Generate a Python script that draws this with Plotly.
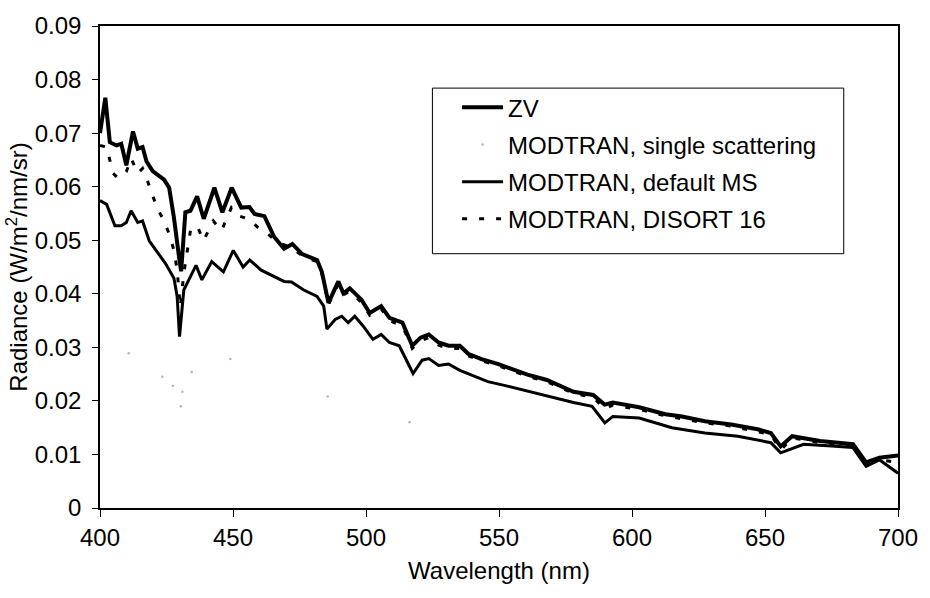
import plotly.graph_objects as go

# ---- data ----
zv_nm = [400, 402, 403.7, 406.2, 408, 409.9, 412.4, 414.2, 416, 417.5, 419.8, 422.2, 424.1, 426, 427.8,
         429.7, 430.5, 432.1, 434, 436.5, 439, 443, 446, 449.5, 453.1, 456.2, 458.1, 461.8, 465.5,
         469.2, 472.3, 476, 481.6, 483.4, 485.9, 489.6, 491.5, 493.9, 498.3, 501.4, 505.7, 508.8,
         513.7, 517.4, 520.5, 523.6, 527.3, 531, 535.3, 538.4, 543.4, 549.5, 554.5, 560.7, 568,
         578, 585.4, 589.7, 592.8, 602.7, 612.6, 618.8, 627.4, 637.3, 647.2, 652.2, 655.9, 660.2,
         670.7, 683.1, 688, 693, 700]
zv_val = [0.0700, 0.0766, 0.0683, 0.0677, 0.0680, 0.0640, 0.0703, 0.0671, 0.0674, 0.0647, 0.0629, 0.0619,
          0.0613, 0.0598, 0.0542, 0.0469, 0.0442, 0.0552, 0.0555, 0.0582, 0.0540, 0.0598, 0.0552, 0.0598,
          0.0561, 0.0562, 0.0549, 0.0545, 0.0506, 0.0484, 0.0493, 0.0474, 0.0463, 0.0441, 0.0383, 0.0423,
          0.0401, 0.0410, 0.0389, 0.0364, 0.0377, 0.0355, 0.0346, 0.0303, 0.0318, 0.0324, 0.0309, 0.0303,
          0.0303, 0.0288, 0.0278, 0.0269, 0.0260, 0.0249, 0.0239, 0.0217, 0.0211, 0.0193, 0.0197, 0.0188,
          0.0175, 0.0171, 0.0162, 0.0156, 0.0147, 0.0140, 0.0115, 0.0134, 0.0125, 0.0119, 0.0085, 0.0094,
          0.0098]

ss_nm = [410.8, 423.4, 427.4, 430.4, 431.0, 434.5, 449.0, 485.6, 516.4]
ss_val = [0.0289, 0.0245, 0.0228, 0.0190, 0.0217, 0.0254, 0.0278, 0.0208, 0.0160]

ms_nm = [400, 402.5, 405.6, 408, 409.9, 411.7, 414.2, 416, 418.5, 421.6, 424.7, 427.8, 429, 429.9, 431.5,
         434, 436.1, 438.3, 442, 446.4, 450.1, 453.8, 456.3, 460.6, 465.5, 469.2, 472, 476.6, 481.6,
         484.1, 485.3, 488.4, 490.9, 493.3, 495.8, 498.9, 502.6, 505.7, 508.8, 512.5, 516.2, 517.7,
         521.1, 523.6, 527.3, 531, 535.3, 539.7, 545.8, 552, 560, 570, 578, 585, 589.8, 592.8, 602.7,
         615, 627.4, 639.8, 652.2, 655.9, 664.5, 675, 683, 688, 693, 700]
ms_val = [0.0574, 0.0567, 0.0527, 0.0527, 0.0533, 0.0555, 0.0533, 0.0536, 0.0499, 0.0478, 0.0456, 0.0429,
          0.0395, 0.0320, 0.0407, 0.0432, 0.0453, 0.0426, 0.0460, 0.0441, 0.0481, 0.0450, 0.0463, 0.0444,
          0.0432, 0.0423, 0.0422, 0.0407, 0.0395, 0.0377, 0.0334, 0.0352, 0.0358, 0.0346, 0.0358, 0.0340,
          0.0315, 0.0324, 0.0309, 0.0303, 0.0266, 0.0251, 0.0276, 0.0279, 0.0266, 0.0269, 0.0257, 0.0248,
          0.0236, 0.0229, 0.0219, 0.0207, 0.0197, 0.0190, 0.0159, 0.0171, 0.0168, 0.0150, 0.0140, 0.0134,
          0.0122, 0.0103, 0.0119, 0.0116, 0.0113, 0.0078, 0.0090, 0.0065]

ds_nm = [400, 402.5, 404.9, 406.8, 409.9, 411.7, 414.2, 416, 417.9, 420.4, 421.6, 423.5, 426, 427.8, 429,
         430.2, 431.5, 434, 436.5, 438.9, 442.6, 445.7, 449.4, 452.5, 456.2, 459.3, 463, 466.7, 471.7,
         476.6, 481.6, 483.4, 485.9, 489.6, 491.5, 493.9, 498.3, 501.4, 505.7, 508.8, 513.7, 517.4,
         520.5, 523.6, 527.3, 531, 535.3, 538.4, 543.4, 549.5, 554.5, 560.7, 568, 578, 585.4, 589.7,
         592.8, 602.7, 612.6, 618.8, 627.4, 637.3, 647.2, 652.2, 655.9, 660.2, 670.7, 683.1, 688, 693, 700]
ds_val = [0.0677, 0.0674, 0.0625, 0.0616, 0.0628, 0.0653, 0.0625, 0.0634, 0.0610, 0.0573, 0.0558, 0.0542,
          0.0512, 0.0481, 0.0444, 0.0375, 0.0438, 0.0518, 0.0527, 0.0499, 0.0536, 0.0518, 0.0561, 0.0545,
          0.0539, 0.0524, 0.0512, 0.0496, 0.0487, 0.0469, 0.0460, 0.0438, 0.0380, 0.0418, 0.0398, 0.0405,
          0.0384, 0.0360, 0.0372, 0.0350, 0.0340, 0.0298, 0.0312, 0.0318, 0.0304, 0.0298, 0.0298, 0.0284,
          0.0275, 0.0266, 0.0257, 0.0246, 0.0236, 0.0214, 0.0207, 0.0185, 0.0192, 0.0184, 0.0172, 0.0167,
          0.0159, 0.0153, 0.0143, 0.0137, 0.0108, 0.0131, 0.0122, 0.0115, 0.0080, 0.0090, 0.0085]

names = ["ZV", "MODTRAN, single scattering", "MODTRAN, default MS", "MODTRAN, DISORT 16"]
x_ticks = [400, 450, 500, 550, 600, 650, 700]

FONT = "Liberation Sans, Arial, sans-serif"
FS = 24

fig = go.Figure()
fig.add_trace(go.Scatter(x=zv_nm, y=zv_val, mode="lines", name=names[0], legendgroup="a",
                         line=dict(color="black", width=4)))
fig.add_trace(go.Scatter(x=ss_nm, y=ss_val, mode="markers", name=names[1], legendgroup="b",
                         marker=dict(color="#b5b5b5", size=2.5)))
fig.add_trace(go.Scatter(x=ms_nm, y=ms_val, mode="lines", name=names[2], legendgroup="c",
                         line=dict(color="black", width=3)))
fig.add_trace(go.Scatter(x=ds_nm, y=ds_val, mode="lines", name=names[3], legendgroup="d",
                         line=dict(color="black", width=3, dash="5px,12px")))

W, H = 930, 598
L, R, T, B = 100, 909, 19, 508

def px(xp):
    return (xp - L) / (R - L)

def py(yp):
    return (B - yp) / (B - T)

fig.add_shape(type="rect", xref="paper", yref="paper",
              x0=px(437), x1=px(854), y0=py(250), y1=py(82),
              line=dict(color="black", width=1), fillcolor="rgba(0,0,0,0)")

fig.update_layout(
    width=W, height=H,
    margin=dict(l=L, r=W - R, t=T, b=H - B),
    paper_bgcolor="white", plot_bgcolor="white",
    font=dict(family=FONT, size=FS, color="black"),
    showlegend=True,
    legend=dict(x=px(462), y=py(79), xanchor="left", yanchor="top",
                bgcolor="rgba(0,0,0,0)", borderwidth=0,
                font=dict(family=FONT, size=FS, color="black"),
                tracegroupgap=3, itemwidth=41),
    xaxis=dict(range=[400, 700], tickvals=x_ticks, ticks="outside", ticklen=7, tickwidth=1,
               tickcolor="black", showline=True, linecolor="black", linewidth=1.5, mirror=True,
               showgrid=False, zeroline=False, ticklabeloverflow="allow",
               title=dict(text="Wavelength (nm)", standoff=13, font=dict(size=FS))),
    yaxis=dict(range=[0, 0.09], dtick=0.01, ticks="outside", ticklen=6, tickwidth=1,
               tickcolor="black", showline=True, linecolor="black", linewidth=1.5, mirror=True,
               showgrid=False, zeroline=False, ticklabelstandoff=6, ticklabeloverflow="allow",
               title=dict(text="Radiance (W/m<sup>2</sup>/nm/sr)", standoff=0, font=dict(size=FS))),
)

fig.write_html(
    "out.html",
    config={"displayModeBar": False},
    post_script="document.body.style.margin='0';document.body.style.padding='0';"
                "document.body.style.overflow='hidden';document.documentElement.style.overflow='hidden';",
)
